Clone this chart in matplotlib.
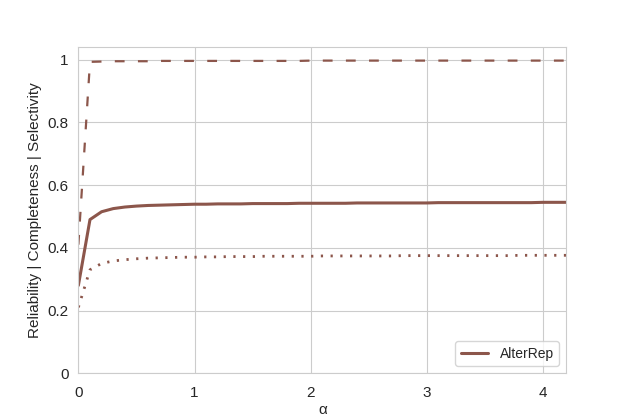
import matplotlib
matplotlib.use('Agg')
import matplotlib.pyplot as plt
import seaborn as sns

# alpha values, step 0.1 from 0 to 4.2
alpha = [round(i * 0.1, 1) for i in range(43)]

reliability = [0.28, 0.49, 0.515, 0.525, 0.530, 0.533, 0.535, 0.536, 0.537, 0.538,
               0.539, 0.539, 0.540, 0.540, 0.540, 0.541, 0.541, 0.541, 0.541, 0.542,
               0.542, 0.542, 0.542, 0.542, 0.543, 0.543, 0.543, 0.543, 0.543, 0.543,
               0.543, 0.544, 0.544, 0.544, 0.544, 0.544, 0.544, 0.544, 0.544, 0.544,
               0.545, 0.545, 0.545]
completeness = [0.41, 0.993, 0.994, 0.995, 0.995, 0.995, 0.995, 0.996, 0.996, 0.996,
                0.996, 0.996, 0.996, 0.996, 0.996, 0.996, 0.996, 0.996, 0.996, 0.996,
                0.997, 0.997, 0.997, 0.997, 0.997, 0.997, 0.997, 0.997, 0.997, 0.997,
                0.997, 0.997, 0.997, 0.997, 0.997, 0.997, 0.997, 0.997, 0.997, 0.997,
                0.997, 0.997, 0.997]
selectivity = [0.21, 0.33, 0.350, 0.358, 0.362, 0.365, 0.367, 0.368, 0.369, 0.370,
               0.370, 0.371, 0.371, 0.372, 0.372, 0.372, 0.373, 0.373, 0.373, 0.373,
               0.373, 0.374, 0.374, 0.374, 0.374, 0.374, 0.374, 0.374, 0.375, 0.375,
               0.375, 0.375, 0.375, 0.375, 0.375, 0.375, 0.375, 0.375, 0.376, 0.376,
               0.376, 0.376, 0.376]

xticks = [0, 1, 2, 3, 4]
yticks = [0, 0.2, 0.4, 0.6, 0.8, 1]
ytick_labels = ['0', '0.2', '0.4', '0.6', '0.8', '1']

sns.set_style('whitegrid')
plt.rcParams['font.family'] = ['Liberation Sans', 'DejaVu Sans']

color = '#8c564b'
fig, ax = plt.subplots(figsize=(6.27, 4.17), dpi=100)
fig.subplots_adjust(left=0.125, right=0.903, top=0.887, bottom=0.105)

ax.plot(alpha, reliability, color=color, linestyle='-', linewidth=2.2, label='AlterRep')
ax.plot(alpha, completeness, color=color, linestyle=(0, (4.4, 6.0)), linewidth=1.6)
ax.plot(alpha, selectivity, color=color, linestyle=(0, (0.8, 2.7)), linewidth=2.0)

ax.set_xlim(0, 4.2)
ax.set_ylim(0, 1.04)
ax.set_xticks(xticks)
ax.set_yticks(yticks)
ax.set_yticklabels(ytick_labels)
ax.tick_params(labelsize=11)
ax.tick_params(axis='x', pad=6)
ax.set_xlabel('α', fontsize=11, labelpad=2)
ax.set_ylabel('Reliability | Completeness | Selectivity', fontsize=11)
ax.legend(loc='lower right', fontsize=10)

plt.savefig('out.png')
plt.close()
